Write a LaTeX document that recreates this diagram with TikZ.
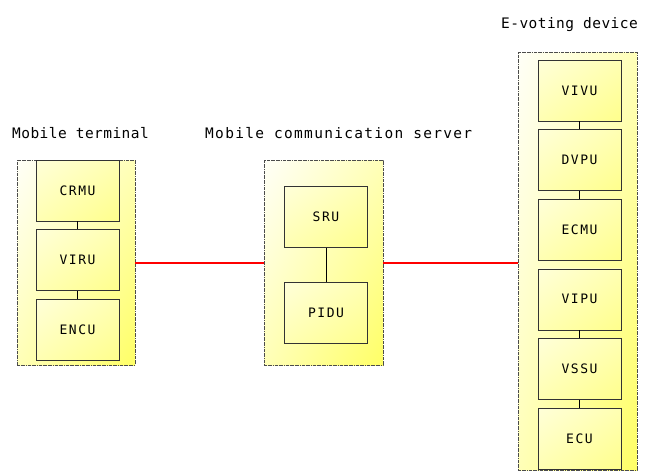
\documentclass[tikz,border=0pt]{standalone}
\usepackage{fontspec}
\usepackage{tikz}
\usetikzlibrary{positioning, backgrounds, shadings}
\newfontfamily\labelfont[LetterSpace=3]{DejaVu Sans Mono}
\newfontfamily\widelabelfont[LetterSpace=9]{DejaVu Sans Mono}
\newfontfamily\unitfont[LetterSpace=12]{DejaVu Sans Mono}

\begin{document}
\begin{tikzpicture}[x=1pt, y=-1pt, node distance=8pt]
    % Styles
    \tikzstyle{group} = [rectangle, draw=black!70, densely dashdotted, upper left=yellow!3, upper right=yellow!28, lower left=yellow!28, lower right=yellow!60, inner sep=0pt]
    \tikzstyle{unit} = [rectangle, draw=black!80, semithick, upper left=yellow!15, upper right=yellow!30, lower left=yellow!30, lower right=yellow!45, minimum width=83pt, minimum height=61pt, inner sep=0pt, font=\unitfont\fontsize{13}{13}\selectfont]
    \tikzstyle{title} = [font=\labelfont\fontsize{14.5}{14.5}\selectfont, anchor=base west, inner sep=0pt]
    \tikzstyle{line} = [draw, black, thick]
    \tikzstyle{link} = [draw, red, line width=2pt]

    \useasboundingbox (0,0) rectangle (646,471);

    % Containers
    \node [group, minimum width=118pt, minimum height=205pt] (terminal) at (76,262.5) {};
    \node [group, minimum width=119pt, minimum height=205pt] (server) at (323.5,262.5) {};
    \node [group, minimum width=119pt, minimum height=418pt] (device) at (577.5,261) {};

    % Titles
    \node [title] (tterminal) at (12,138) {Mobile terminal};
    \node [title, font=\widelabelfont\fontsize{14.5}{14.5}\selectfont] (tserver) at (205,138) {Mobile communication server};
    \node [title, anchor=base east] (tdevice) at (638,28) {E-voting device};

    % Mobile terminal
    \node [unit] (crmu) at (77.5,190.5) {CRMU};
    \node [unit, below=of crmu] (viru) {VIRU};
    \node [unit, below=of viru] (encu) {ENCU};

    % Server
    \node [unit] (sru) at (326,217) {SRU};
    \node [unit, below=34pt of sru] (pidu) {PIDU};

    % E-voting device
    \node [unit] (vivu) at (579.5,90.5) {VIVU};
    \node [unit, below=of vivu] (dvpu) {DVPU};
    \node [unit, below=of dvpu] (ecmu) {ECMU};
    \node [unit, below=of ecmu] (vipu) {VIPU};
    \node [unit, below=of vipu] (vssu) {VSSU};
    \node [unit, below=of vssu] (ecu) {ECU};

    % Paths
    \path [line] (crmu) -- (viru);
    \path [line] (viru) -- (encu);
    \path [line] (sru) -- (pidu);
    \path [line] (vivu) -- (dvpu);
    \path [line] (dvpu) -- (ecmu);
    \path [line] (vipu) -- (vssu);
    \path [line] (vssu) -- (ecu);
    \path [link] (terminal.east) -- (server.west);
    \path [link] (server.east) -- (server.east -| device.west);
\end{tikzpicture}
\end{document}
